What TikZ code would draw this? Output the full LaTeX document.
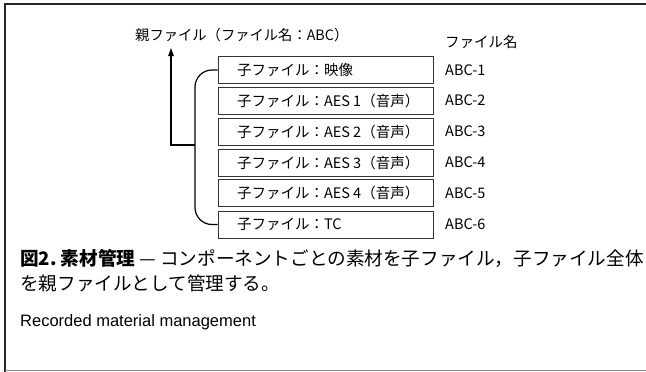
\documentclass[tikz,border=0pt]{standalone}
\usepackage{fontspec}
\setmainfont{Noto Sans CJK JP}
\newfontfamily\latfont{Liberation Sans}
\usetikzlibrary{arrows.meta}
\newcommand{\boxtext}[1]{\makebox[177pt][l]{#1}}
\begin{document}
\begin{tikzpicture}[x=1pt,y=-1pt,
  filebox/.style={draw=black!80, line width=0.9pt, minimum width=215pt, minimum height=27pt,
    inner xsep=19pt, inner ysep=0pt, font=\fontsize{14.5}{16}\selectfont},
  lbl/.style={anchor=west, inner sep=0pt, font=\fontsize{14.5}{16}\selectfont},
  conn/.style={line width=1.2pt, black}]
\useasboundingbox (0,0) rectangle (646,372);
% frame
\draw[line width=1.6pt, black!85] (5,372) -- (5,4) -- (646,4);
\draw[line width=1.5pt, black!45] (5,370.5) -- (646,370.5);
% parent
\node[lbl, font=\fontsize{14.3}{17}\selectfont] (parent) at (135,35) {親ファイル（ファイル名：ABC）};
\node[lbl] (fnhead) at (445,42) {ファイル名};
% child boxes
\node[filebox] (b1) at (325.5,70)    {\boxtext{子ファイル：映像}};
\node[filebox] (b2) at (325.5,100.5) {\boxtext{子ファイル：AES 1（音声）}};
\node[filebox] (b3) at (325.5,131.5) {\boxtext{子ファイル：AES 2（音声）}};
\node[filebox] (b4) at (325.5,162.5) {\boxtext{子ファイル：AES 3（音声）}};
\node[filebox] (b5) at (325.5,193)   {\boxtext{子ファイル：AES 4（音声）}};
\node[filebox] (b6) at (325.5,224.5) {\boxtext{子ファイル：TC}};
% file names
\node[lbl] (n1) at (445,70)    {ABC-1};
\node[lbl] (n2) at (445,100.5) {ABC-2};
\node[lbl] (n3) at (445,131.5) {ABC-3};
\node[lbl] (n4) at (445,162.5) {ABC-4};
\node[lbl] (n5) at (445,193)   {ABC-5};
\node[lbl] (n6) at (445,224.5) {ABC-6};
% bracket
\draw[conn, rounded corners=17pt] (b1.west) -- (195,70) -- (195,224.5) -- (b6.west);
\coordinate (join) at (195,145);
\coordinate (tip) at (171,48);
\draw[conn, -{Triangle[length=8pt,width=5.5pt]}] (join) -- (171,145) -- (tip);
% caption
\node[anchor=west, inner sep=0pt, font=\fontsize{18.6}{20}\selectfont] (cap1) at (20,258)
  {\textbf{図2.\ 素材管理}\ —\ コンポーネントごとの素材を子ファイル，子ファイル全体};
\node[anchor=west, inner sep=0pt, font=\fontsize{18.6}{20}\selectfont] (cap2) at (20,283)
  {を親ファイルとして管理する。};
\node[anchor=west, inner sep=0pt, font=\latfont\fontsize{16.5}{18}\selectfont] (eng) at (20,322)
  {Recorded material management};
\end{tikzpicture}
\end{document}
